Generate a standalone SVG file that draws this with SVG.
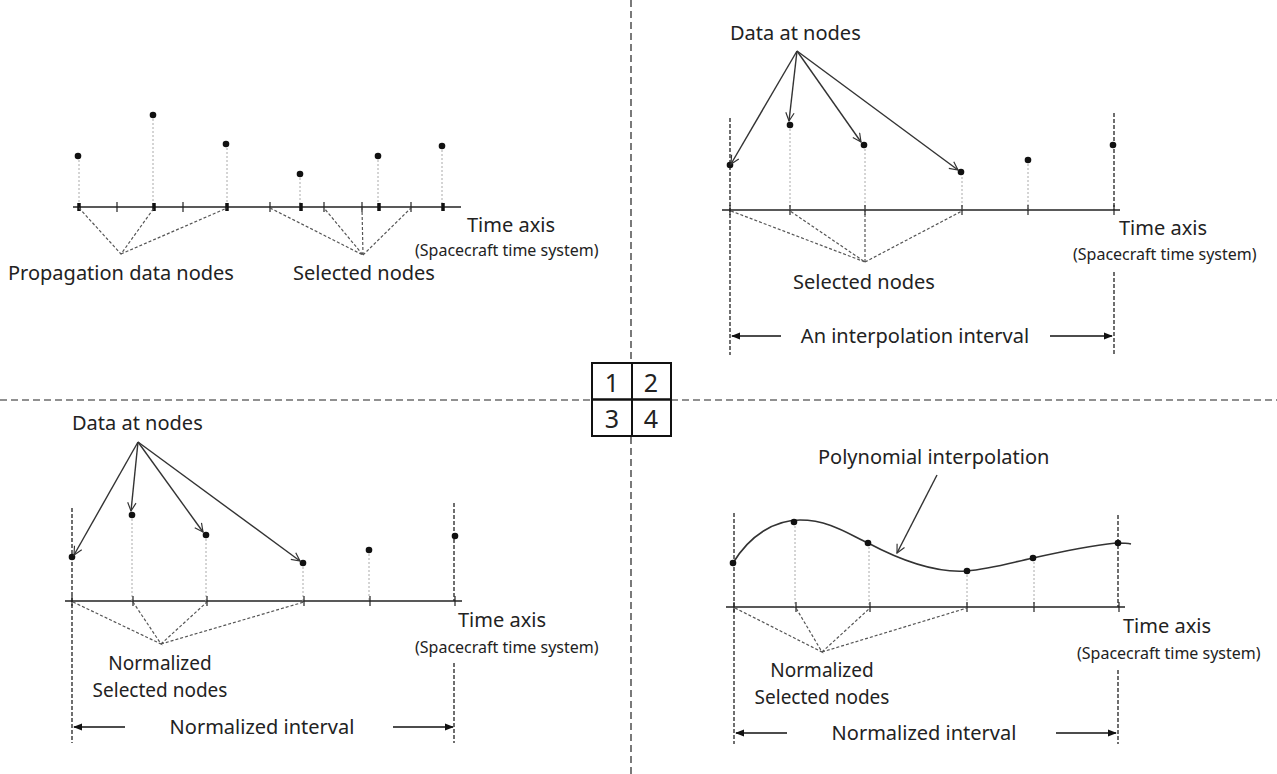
<svg xmlns="http://www.w3.org/2000/svg" width="1277" height="774" viewBox="0 0 1277 774">
<style>
text{font-family:"Noto Sans","Liberation Sans",sans-serif;fill:#222}
.lbl{font-size:20px}
.two{font-size:19px}
.sm{font-size:16px}
.num{font-size:25px}
.axis{stroke:#222;stroke-width:1.6;fill:none}
.tick{stroke:#222;stroke-width:1.2}
.btick{stroke:#111;stroke-width:3.5}
.drop{stroke:#aaa;stroke-width:1;stroke-dasharray:2,2}
.conv{stroke:#555;stroke-width:1.2;stroke-dasharray:3,2;fill:none}
.bound{stroke:#222;stroke-width:1.3;stroke-dasharray:4,2}
.div{stroke:#222;stroke-width:1.2;stroke-dasharray:7,4}
.arr{stroke:#333;stroke-width:1.4;fill:none;marker-end:url(#open)}
.iarr{stroke:#111;stroke-width:1.3;marker-end:url(#solid)}
.dot{fill:#111}
</style>
<defs>
<marker id="open" viewBox="0 0 12 12" refX="11" refY="6" markerWidth="10" markerHeight="10" orient="auto" markerUnits="userSpaceOnUse">
<path d="M1,1 L11,6 L1,11" fill="none" stroke="#333" stroke-width="1.4"/>
</marker>
<marker id="solid" viewBox="0 0 10 10" refX="9" refY="5" markerWidth="9" markerHeight="9" orient="auto" markerUnits="userSpaceOnUse">
<path d="M0,1 L10,5 L0,9 Z" fill="#111"/>
</marker>
</defs>
<rect width="1277" height="774" fill="#fff"/>

<g id="dividers">
<line class="div" x1="631" y1="0" x2="631" y2="363"/>
<line class="div" x1="631" y1="437" x2="631" y2="774"/>
<line class="div" x1="0" y1="400" x2="592" y2="400"/>
<line class="div" x1="671" y1="400" x2="1277" y2="400"/>
</g>

<g id="legend">
<rect x="592" y="363" width="79" height="73" fill="#fff" stroke="#111" stroke-width="2"/>
<line x1="592" y1="399.5" x2="671" y2="399.5" stroke="#111" stroke-width="2.4"/>
<line x1="632" y1="363" x2="632" y2="436" stroke="#111" stroke-width="2"/>
<text class="num" x="612" y="392" text-anchor="middle">1</text>
<text class="num" x="651" y="392" text-anchor="middle">2</text>
<text class="num" x="612" y="428" text-anchor="middle">3</text>
<text class="num" x="651" y="428" text-anchor="middle">4</text>
</g>

<!-- Quadrant 1 -->
<g id="q1">
<line class="axis" x1="73" y1="207" x2="461" y2="207"/>
<g class="drop-lines">
<line class="drop" x1="79" y1="156" x2="79" y2="207"/>
<line class="drop" x1="153" y1="115" x2="153" y2="207"/>
<line class="drop" x1="227" y1="144" x2="227" y2="207"/>
<line class="drop" x1="300" y1="174" x2="300" y2="207"/>
<line class="drop" x1="378" y1="156" x2="378" y2="207"/>
<line class="drop" x1="442" y1="146" x2="442" y2="207"/>
</g>
<line class="btick" x1="79" y1="203" x2="79" y2="211"/>
<line class="btick" x1="154" y1="203" x2="154" y2="211"/>
<line class="btick" x1="227" y1="203" x2="227" y2="211"/>
<line class="btick" x1="301" y1="203" x2="301" y2="211"/>
<line class="btick" x1="379" y1="203" x2="379" y2="211"/>
<line class="btick" x1="443" y1="203" x2="443" y2="211"/>
<line class="tick" x1="117" y1="202" x2="117" y2="212"/>
<line class="tick" x1="183" y1="202" x2="183" y2="212"/>
<line class="tick" x1="270" y1="202" x2="270" y2="212"/>
<line class="tick" x1="324" y1="202" x2="324" y2="212"/>
<line class="tick" x1="362" y1="202" x2="362" y2="212"/>
<line class="tick" x1="411" y1="202" x2="411" y2="212"/>
<circle class="dot" cx="78" cy="156" r="3.3"/>
<circle class="dot" cx="153" cy="115" r="3.3"/>
<circle class="dot" cx="226" cy="144" r="3.3"/>
<circle class="dot" cx="300" cy="174" r="3.3"/>
<circle class="dot" cx="378" cy="156" r="3.3"/>
<circle class="dot" cx="442" cy="146" r="3.3"/>
<path class="conv" d="M79,208 L121,254 L154,208 M121,254 L227,208"/>
<path class="conv" d="M270,208 L363,255 L324,208 M363,255 L362,208 M363,255 L411,208"/>
<text class="lbl" x="8" y="280">Propagation data nodes</text>
<text class="lbl" x="293" y="280">Selected nodes</text>
<text class="lbl" x="467" y="232">Time axis</text>
<text class="sm" x="415" y="256">(Spacecraft time system)</text>
</g>

<!-- Quadrant 2 -->
<g id="q2">
<line class="bound" x1="730" y1="118" x2="730" y2="355"/>
<line class="bound" x1="1114" y1="113" x2="1114" y2="210"/>
<line class="bound" x1="1114" y1="272" x2="1114" y2="355"/>
<line class="axis" x1="722" y1="210" x2="1120" y2="210"/>
<line class="drop" x1="790" y1="125" x2="790" y2="210"/>
<line class="drop" x1="865" y1="145" x2="865" y2="210"/>
<line class="drop" x1="962" y1="173" x2="962" y2="210"/>
<line class="drop" x1="1028" y1="160" x2="1028" y2="210"/>
<line class="tick" x1="730" y1="205" x2="730" y2="215"/>
<line class="tick" x1="790" y1="205" x2="790" y2="215"/>
<line class="tick" x1="865" y1="205" x2="865" y2="215"/>
<line class="tick" x1="962" y1="205" x2="962" y2="215"/>
<line class="tick" x1="1028" y1="205" x2="1028" y2="215"/>
<line class="tick" x1="1114" y1="205" x2="1114" y2="215"/>
<circle class="dot" cx="730" cy="165" r="3.3"/>
<circle class="dot" cx="790" cy="125" r="3.3"/>
<circle class="dot" cx="864" cy="145" r="3.3"/>
<circle class="dot" cx="961" cy="172" r="3.3"/>
<circle class="dot" cx="1028" cy="160" r="3.3"/>
<circle class="dot" cx="1113" cy="145" r="3.3"/>
<path class="conv" d="M731,211 L865,262 L790,211 M865,262 L865,211 M865,262 L962,211"/>
<text class="lbl" x="730" y="40">Data at nodes</text>
<text class="lbl" x="864" y="289" text-anchor="middle">Selected nodes</text>
<text class="lbl" x="1119" y="235">Time axis</text>
<text class="sm" x="1073" y="260">(Spacecraft time system)</text>
<text class="lbl" x="915" y="343" text-anchor="middle">An interpolation interval</text>
<line class="iarr" x1="781" y1="336" x2="732" y2="336"/>
<line class="iarr" x1="1050" y1="336" x2="1112" y2="336"/>
</g>

<!-- Quadrant 3 -->
<g id="q3">
<line class="bound" x1="72" y1="508" x2="72" y2="743"/>
<line class="bound" x1="454" y1="503" x2="454" y2="601"/>
<line class="bound" x1="454" y1="663" x2="454" y2="743"/>
<line class="axis" x1="65" y1="601" x2="462" y2="601"/>
<line class="drop" x1="132" y1="515" x2="132" y2="601"/>
<line class="drop" x1="206" y1="535" x2="206" y2="601"/>
<line class="drop" x1="303" y1="563" x2="303" y2="601"/>
<line class="drop" x1="369" y1="550" x2="369" y2="601"/>
<line class="tick" x1="72" y1="596" x2="72" y2="606"/>
<line class="tick" x1="133" y1="596" x2="133" y2="606"/>
<line class="tick" x1="207" y1="596" x2="207" y2="606"/>
<line class="tick" x1="304" y1="596" x2="304" y2="606"/>
<line class="tick" x1="370" y1="596" x2="370" y2="606"/>
<line class="tick" x1="455" y1="596" x2="455" y2="606"/>
<circle class="dot" cx="72" cy="557" r="3.3"/>
<circle class="dot" cx="132" cy="515" r="3.3"/>
<circle class="dot" cx="206" cy="535" r="3.3"/>
<circle class="dot" cx="303" cy="563" r="3.3"/>
<circle class="dot" cx="369" cy="550" r="3.3"/>
<circle class="dot" cx="455" cy="536" r="3.3"/>
<path class="conv" d="M73,602 L161,644 L133,602 M161,644 L207,602 M161,644 L304,602"/>
<text class="lbl" x="72" y="430">Data at nodes</text>
<text class="two" x="160" y="670" text-anchor="middle">Normalized</text>
<text class="two" x="160" y="697" text-anchor="middle">Selected nodes</text>
<text class="lbl" x="458" y="627">Time axis</text>
<text class="sm" x="415" y="653">(Spacecraft time system)</text>
<text class="lbl" x="262" y="734" text-anchor="middle">Normalized interval</text>
<line class="iarr" x1="125" y1="727" x2="74" y2="727"/>
<line class="iarr" x1="393" y1="727" x2="453" y2="727"/>
</g>

<!-- Quadrant 4 -->
<g id="q4">
<line class="bound" x1="734" y1="513" x2="734" y2="744"/>
<line class="bound" x1="1118" y1="515" x2="1118" y2="607"/>
<line class="bound" x1="1118" y1="670" x2="1118" y2="744"/>
<line class="axis" x1="726" y1="607" x2="1125" y2="607"/>
<path d="M733,563 C750,535 775,520 800,520 C830,520 850,535 868,543 C900,560 935,573 966,571 C990,569 1010,563 1033,558 C1060,552 1090,546 1116,543 C1122,543 1127,543 1131,544" fill="none" stroke="#333" stroke-width="1.6"/>
<line class="drop" x1="795" y1="522" x2="795" y2="607"/>
<line class="drop" x1="869" y1="543" x2="869" y2="607"/>
<line class="drop" x1="967" y1="571" x2="967" y2="607"/>
<line class="drop" x1="1034" y1="558" x2="1034" y2="607"/>
<line class="tick" x1="734" y1="602" x2="734" y2="612"/>
<line class="tick" x1="796" y1="602" x2="796" y2="612"/>
<line class="tick" x1="870" y1="602" x2="870" y2="612"/>
<line class="tick" x1="967" y1="602" x2="967" y2="612"/>
<line class="tick" x1="1034" y1="602" x2="1034" y2="612"/>
<line class="tick" x1="1119" y1="602" x2="1119" y2="612"/>
<circle class="dot" cx="733" cy="563" r="3.3"/>
<circle class="dot" cx="794" cy="522" r="3.3"/>
<circle class="dot" cx="868" cy="543" r="3.3"/>
<circle class="dot" cx="967" cy="571" r="3.3"/>
<circle class="dot" cx="1033" cy="558" r="3.3"/>
<circle class="dot" cx="1118" cy="543" r="3.3"/>
<path class="conv" d="M735,608 L822,652 L796,608 M822,652 L870,608 M822,652 L967,608"/>
<text class="lbl" x="818" y="464">Polynomial interpolation</text>
<line class="arr" x1="937" y1="475" x2="897" y2="553"/>
<text class="lbl" x="1123" y="633">Time axis</text>
<text class="sm" x="1077" y="659">(Spacecraft time system)</text>
<text class="two" x="822" y="677" text-anchor="middle">Normalized</text>
<text class="two" x="822" y="704" text-anchor="middle">Selected nodes</text>
<text class="lbl" x="924" y="740" text-anchor="middle">Normalized interval</text>
<line class="iarr" x1="787" y1="733" x2="736" y2="733"/>
<line class="iarr" x1="1056" y1="733" x2="1116" y2="733"/>
</g>

<g id="connectors">
<line class="arr" x1="797" y1="51" x2="731" y2="164"/>
<line class="arr" x1="797" y1="51" x2="789" y2="121"/>
<line class="arr" x1="797" y1="51" x2="861" y2="142"/>
<line class="arr" x1="797" y1="51" x2="958" y2="170"/>
<line class="arr" x1="138" y1="442" x2="74" y2="555"/>
<line class="arr" x1="138" y1="442" x2="131" y2="511"/>
<line class="arr" x1="138" y1="442" x2="203" y2="532"/>
<line class="arr" x1="138" y1="442" x2="300" y2="561"/>
</g>
</svg>
